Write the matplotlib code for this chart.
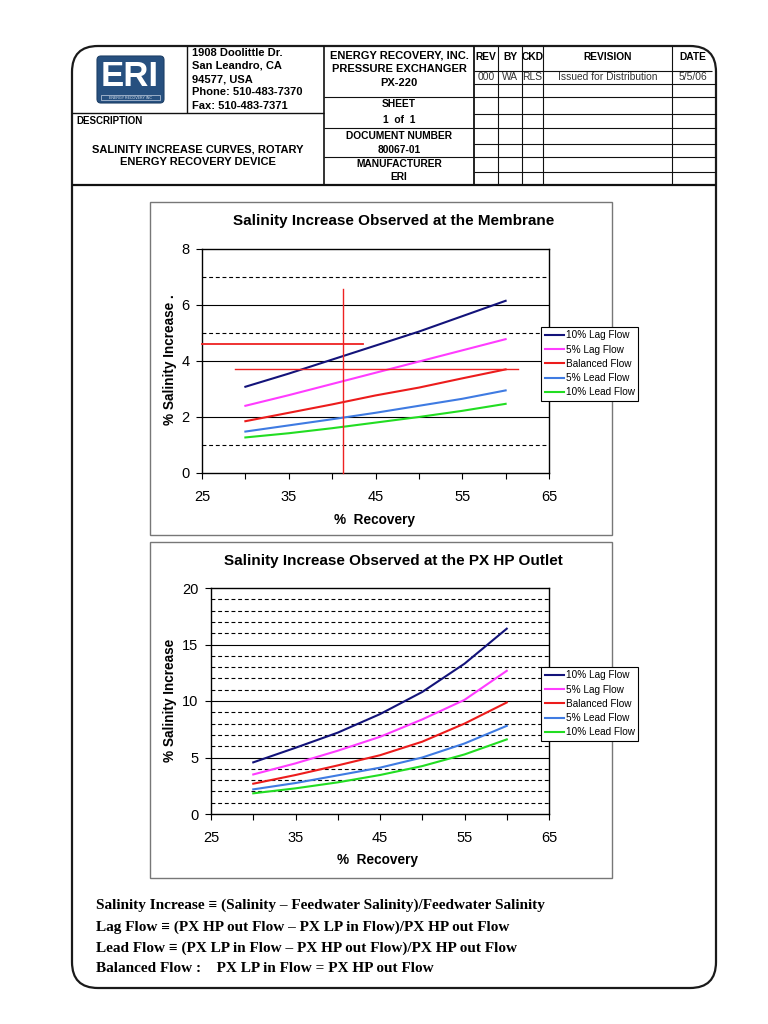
import matplotlib
matplotlib.use("Agg")
import matplotlib.pyplot as plt
from matplotlib.patches import FancyBboxPatch, Rectangle

plt.rcParams['font.family'] = ['Liberation Sans', 'DejaVu Sans']

W, H = 768, 1024

recovery = [30, 35, 40, 45, 50, 55, 60]
nombres = ["10% Lag Flow", "5% Lag Flow", "Balanced Flow", "5% Lead Flow", "10% Lead Flow"]
colores = ["#13137a", "#ff3cff", "#ec1c1c", "#3f7be2", "#22dd22"]

# membrana
memb_lag10 = [3.08, 3.55, 4.05, 4.55, 5.05, 5.60, 6.15]
memb_lag5 = [2.40, 2.78, 3.18, 3.58, 3.98, 4.38, 4.78]
memb_bal = [1.85, 2.15, 2.45, 2.77, 3.05, 3.38, 3.70]
memb_lead5 = [1.48, 1.70, 1.92, 2.15, 2.40, 2.65, 2.95]
memb_lead10 = [1.27, 1.42, 1.60, 1.80, 2.00, 2.22, 2.47]

# salida HP del PX
hp_lag10 = [4.57, 5.86, 7.20, 8.84, 10.8, 13.3, 16.4]
hp_lag5 = [3.50, 4.48, 5.60, 6.83, 8.37, 10.1, 12.67]
hp_bal = [2.68, 3.45, 4.30, 5.20, 6.40, 8.00, 9.87]
hp_lead5 = [2.18, 2.74, 3.42, 4.10, 5.00, 6.24, 7.80]
hp_lead10 = [1.83, 2.27, 2.80, 3.45, 4.24, 5.27, 6.60]

# lineas rojas dibujadas a mano sobre la grafica de la membrana
marca_x = 41.25
marca_x_top = 6.57
marca_h1 = (25, 43.6, 4.6)
marca_h2 = (28.8, 61.4, 3.71)

fig = plt.figure(figsize=(W / 100, H / 100), dpi=100)

page = fig.add_axes([0, 0, 1, 1])
page.set_xlim(0, W)
page.set_ylim(H, 0)
page.axis('off')


def ax_px(x0, y0, x1, y1):
    return fig.add_axes([x0 / W, 1 - y1 / H, (x1 - x0) / W, (y1 - y0) / H])


def hl(y, x0, x1, lw=0.8):
    page.plot([x0, x1], [y, y], color='#111111', lw=lw, solid_capstyle='butt')


def vl(x, y0, y1, lw=0.8):
    page.plot([x, x], [y0, y1], color='#111111', lw=lw, solid_capstyle='butt')


# marco exterior
page.add_patch(FancyBboxPatch((72, 46), 644, 942, boxstyle="round,pad=0,rounding_size=26",
                              fill=False, ec='#1a1a1a', lw=1.6))

# cuadro de titulo
hl(184.5, 72, 716, 1.6)
vl(324, 46, 184.5, 1.2)
vl(187, 46, 113, 1.0)
hl(113, 72, 324, 1.0)
for y in [97, 128, 157]:
    hl(y, 324, 474)
vl(474, 46, 184.5, 1.3)
for x in [498, 522, 543, 672]:
    vl(x, 46, 184.5)
for y in [71, 84, 97, 114, 128, 144, 157, 172]:
    hl(y, 474, 716 if y > 72 else 712)

# logo
page.add_patch(FancyBboxPatch((97, 56), 67, 47, boxstyle="round,pad=0,rounding_size=4",
                              fc='#27507f', ec='#1d3f66', lw=0.8))
page.text(130, 77, "ERI", color='white', fontsize=25, fontweight='bold', ha='center', va='center')
page.add_patch(Rectangle((101, 95), 59, 5, fill=False, ec='#c8d4e4', lw=0.5))
page.text(130.5, 97.6, "ENERGY RECOVERY INC", color='#dde6f0', fontsize=2.6, ha='center', va='center')

direccion = ["1908 Doolittle Dr.", "San Leandro, CA", "94577, USA", "Phone: 510-483-7370", "Fax: 510-483-7371"]
for texto, y in zip(direccion, [53, 66, 79, 92, 106]):
    page.text(192, y, texto, fontsize=8, fontweight='bold', va='center')

page.text(76, 121, "DESCRIPTION", fontsize=7, fontweight='bold', va='center')
page.text(198, 149, "SALINITY INCREASE CURVES, ROTARY", fontsize=8, fontweight='bold', ha='center', va='center')
page.text(198, 162, "ENERGY RECOVERY DEVICE", fontsize=8, fontweight='bold', ha='center', va='center')

medio = [("ENERGY RECOVERY, INC.", 55, 8), ("PRESSURE EXCHANGER", 69, 8), ("PX-220", 83, 8),
         ("SHEET", 104, 7.4), ("1  of  1", 120, 7.4), ("DOCUMENT NUMBER", 136, 7.4),
         ("80067-01", 150, 7.4), ("MANUFACTURER", 164, 7.4), ("ERI", 177, 7.4)]
for texto, y, fs in medio:
    page.text(399, y, texto, fontsize=fs, fontweight='bold', ha='center', va='center')

cols_x = [486, 510, 532.5, 607.5, 693]
encabezado = ["REV", "BY", "CKD", "REVISION", "DATE"]
fila1 = ["000", "WA", "RLS", "Issued for Distribution", "5/5/06"]
for x, a, b in zip(cols_x, encabezado, fila1):
    page.text(x, 57, a, fontsize=7.4, fontweight='bold', ha='center', va='center')
    page.text(x, 77, b, fontsize=7.4, color='#333333', ha='center', va='center')

# recuadros de las graficas
page.add_patch(Rectangle((150, 202), 462, 333, fill=False, ec='#777777', lw=1.0))
page.add_patch(Rectangle((150, 542), 462, 336, fill=False, ec='#777777', lw=1.0))


def preparar(ax, ymax, solidas, punteadas, yticks):
    ax.set_xlim(25, 65)
    ax.set_ylim(0, ymax)
    for y in solidas:
        ax.axhline(y, color='black', lw=0.8, zorder=1)
    for y in punteadas:
        ax.axhline(y, color='black', lw=0.8, ls=(0, (3.5, 2.5)), zorder=1)
    ax.set_xticks([25, 35, 45, 55, 65])
    ax.set_xticks([30, 40, 50, 60], minor=True)
    ax.set_yticks(yticks)
    ax.tick_params(axis='both', which='both', direction='out', length=4, width=0.8, labelsize=10.5)
    ax.tick_params(axis='x', which='major', pad=8)
    ax.tick_params(axis='y', pad=5)
    for s in ax.spines.values():
        s.set_linewidth(1.0)
        s.set_color('black')


def leyenda(ax, x0, y0):
    ax.legend(loc='upper left', bbox_to_anchor=(x0 / W, 1 - y0 / H), bbox_transform=fig.transFigure,
              fontsize=7.2, frameon=True, fancybox=False, framealpha=1, edgecolor='black',
              borderpad=0.35, handlelength=1.9, handletextpad=0.2, labelspacing=0.42,
              borderaxespad=0).get_frame().set_linewidth(0.8)


# grafica 1: membrana
ax1 = ax_px(202, 249, 549, 473)
preparar(ax1, 8, [2, 4, 6], [1, 5, 7], [0, 2, 4, 6, 8])
for datos, nombre, c in zip([memb_lag10, memb_lag5, memb_bal, memb_lead5, memb_lead10], nombres, colores):
    ax1.plot(recovery, datos, color=c, lw=1.5, label=nombre, zorder=3)
ax1.plot([marca_x, marca_x], [0, marca_x_top], color='#ee2222', lw=1.0, zorder=4, clip_on=False)
ax1.plot(marca_h1[:2], [marca_h1[2]] * 2, color='#ee2222', lw=1.3, zorder=4, clip_on=False)
ax1.plot(marca_h2[:2], [marca_h2[2]] * 2, color='#ee2222', lw=1.0, zorder=4, clip_on=False)
ax1.set_title("Salinity Increase Observed at the Membrane", fontsize=11, fontweight='bold',
              x=0.553, y=1.125, va='center', pad=0)
ax1.set_xlabel("%  Recovery", fontsize=9.8, fontweight='bold')
ax1.xaxis.set_label_coords(0.496, -0.21)
ax1.xaxis.label.set_va('center')
ax1.set_ylabel("% Salinity Increase .", fontsize=9.8, fontweight='bold')
ax1.yaxis.set_label_coords(-0.092, 0.504)
ax1.yaxis.label.set_va('center')
leyenda(ax1, 541, 327)

# grafica 2: salida HP
ax2 = ax_px(211, 588, 549, 814)
preparar(ax2, 20, [5, 10, 15], [y for y in range(1, 20) if y % 5], [0, 5, 10, 15, 20])
for datos, nombre, c in zip([hp_lag10, hp_lag5, hp_bal, hp_lead5, hp_lead10], nombres, colores):
    ax2.plot(recovery, datos, color=c, lw=1.5, label=nombre, zorder=3)
ax2.set_title("Salinity Increase Observed at the PX HP Outlet", fontsize=11, fontweight='bold',
              x=0.541, y=1.119, va='center', pad=0)
ax2.set_xlabel("%  Recovery", fontsize=9.8, fontweight='bold')
ax2.xaxis.set_label_coords(0.494, -0.204)
ax2.xaxis.label.set_va('center')
ax2.set_ylabel("% Salinity Increase", fontsize=9.8, fontweight='bold')
ax2.yaxis.set_label_coords(-0.121, 0.504)
ax2.yaxis.label.set_va('center')
leyenda(ax2, 541, 667)

# definiciones
definiciones = [
    "Salinity Increase \u2261 (Salinity \u2013 Feedwater Salinity)/Feedwater Salinity",
    "Lag Flow \u2261 (PX HP out Flow \u2013 PX LP in Flow)/PX HP out Flow",
    "Lead Flow \u2261 (PX LP in Flow \u2013 PX HP out Flow)/PX HP out Flow",
    "Balanced Flow :    PX LP in Flow = PX HP out Flow",
]
for texto, y in zip(definiciones, [905, 927, 948, 969]):
    page.text(96, y, texto, fontsize=11.0, fontweight='bold', va='center',
              family=['Liberation Serif', 'DejaVu Serif'])

fig.savefig("out.png", dpi=100)
